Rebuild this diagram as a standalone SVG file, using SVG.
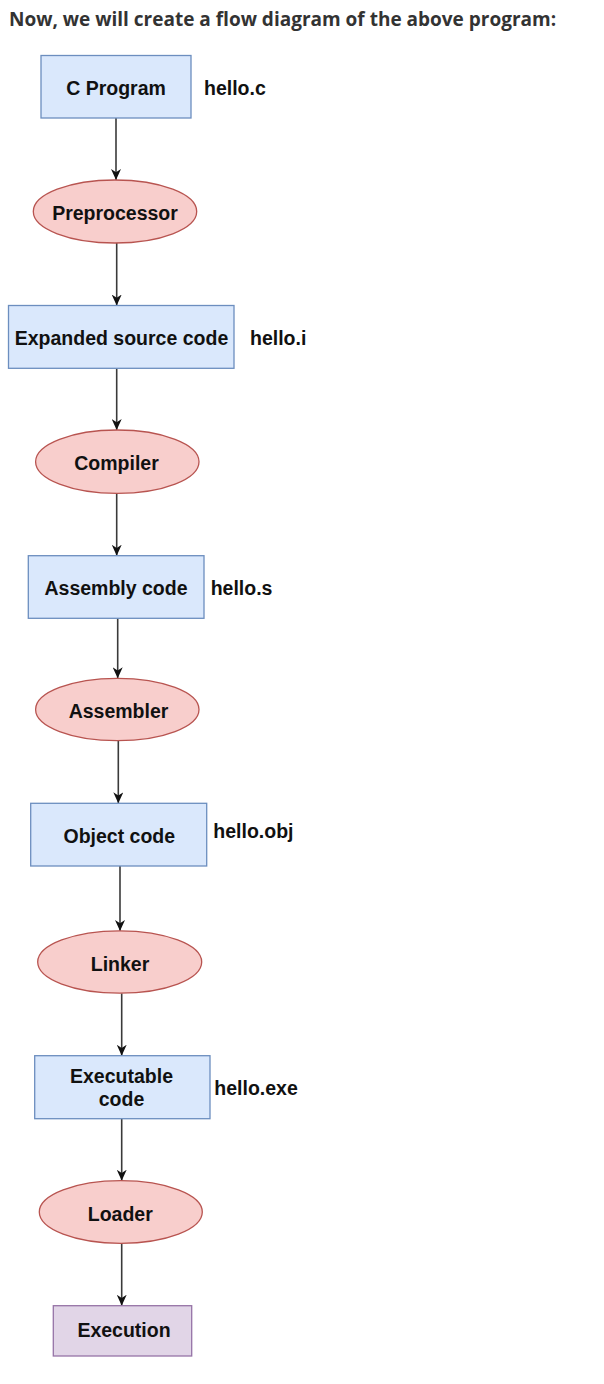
<svg xmlns="http://www.w3.org/2000/svg" width="604" height="1384" viewBox="0 0 604 1384">
<style>
.title{font-family:"Open Sans","Liberation Sans",sans-serif;font-weight:bold;font-size:19px;fill:#333}
.lbl{font-family:"Liberation Sans",Arial,sans-serif;font-weight:bold;font-size:19.5px;fill:#111}
.mid{text-anchor:middle}
.box{fill:#dae8fc;stroke:#6c8ebf;stroke-width:1.3}
.oval{fill:#f8cecc;stroke:#b85450;stroke-width:1.3}
.exec{fill:#e1d5e7;stroke:#9673a6;stroke-width:1.3}
.edge{stroke:#3a3a3a;stroke-width:1.6;fill:none;marker-end:url(#arr)}
</style>
<defs>
<marker id="arr" viewBox="0 0 10 10" refX="10" refY="5" markerWidth="11" markerHeight="10" markerUnits="userSpaceOnUse" orient="auto" preserveAspectRatio="none">
<path d="M0,0 L10,5 L0,10 L3,5 z" fill="#111"/>
</marker>
</defs>
<rect width="604" height="1384" fill="#fff"/>
<text class="title" x="9" y="26">Now, we will create a flow diagram of the above program:</text>

<g id="connectors">
<line class="edge" x1="116" y1="118" x2="116" y2="180"/>
<line class="edge" x1="116.7" y1="243" x2="116.7" y2="305.5"/>
<line class="edge" x1="116.7" y1="368.3" x2="116.7" y2="430"/>
<line class="edge" x1="116.7" y1="493.3" x2="116.7" y2="555.7"/>
<line class="edge" x1="117.7" y1="618.3" x2="117.7" y2="678.3"/>
<line class="edge" x1="118.3" y1="740.7" x2="118.3" y2="803.3"/>
<line class="edge" x1="120" y1="866" x2="120" y2="931"/>
<line class="edge" x1="121.7" y1="993.3" x2="121.7" y2="1055.7"/>
<line class="edge" x1="121.7" y1="1118.7" x2="121.7" y2="1180.7"/>
<line class="edge" x1="121.7" y1="1243.3" x2="121.7" y2="1305.7"/>
</g>

<g id="c-program">
<rect class="box" x="41" y="55.5" width="150" height="62.5"/>
<text class="lbl mid" x="116" y="95">C Program</text>
</g>
<g id="hello-c"><text class="lbl" x="204" y="95">hello.c</text></g>

<g id="preprocessor">
<ellipse class="oval" cx="115" cy="211.5" rx="81.7" ry="31.5"/>
<text class="lbl mid" x="115" y="219.7">Preprocessor</text>
</g>

<g id="expanded-source">
<rect class="box" x="8.5" y="305.5" width="225.5" height="62.8"/>
<text class="lbl mid" x="121.5" y="345">Expanded source code</text>
</g>
<g id="hello-i"><text class="lbl" x="250" y="345">hello.i</text></g>

<g id="compiler">
<ellipse class="oval" cx="117.3" cy="461.7" rx="81.7" ry="31.7"/>
<text class="lbl mid" x="116.5" y="470">Compiler</text>
</g>

<g id="assembly-code">
<rect class="box" x="28.3" y="555.7" width="175.7" height="62.6"/>
<text class="lbl mid" x="116" y="595">Assembly code</text>
</g>
<g id="hello-s"><text class="lbl" x="210.7" y="595">hello.s</text></g>

<g id="assembler">
<ellipse class="oval" cx="117.3" cy="709.5" rx="81.7" ry="31.2"/>
<text class="lbl mid" x="118.5" y="718.3">Assembler</text>
</g>

<g id="object-code">
<rect class="box" x="30.7" y="803.3" width="176" height="62.7"/>
<text class="lbl mid" x="119.3" y="842.7">Object code</text>
</g>
<g id="hello-obj"><text class="lbl" x="213.3" y="838.3">hello.obj</text></g>

<g id="linker">
<ellipse class="oval" cx="119.7" cy="962" rx="82" ry="31.2"/>
<text class="lbl mid" x="120" y="970.7">Linker</text>
</g>

<g id="executable-code">
<rect class="box" x="34.7" y="1055.7" width="175.3" height="63"/>
<text class="lbl mid" x="121.5" y="1083.3">Executable</text>
<text class="lbl mid" x="121.5" y="1106">code</text>
</g>
<g id="hello-exe"><text class="lbl" x="214.3" y="1095">hello.exe</text></g>

<g id="loader">
<ellipse class="oval" cx="120.8" cy="1212" rx="81.5" ry="31.3"/>
<text class="lbl mid" x="120.3" y="1220.7">Loader</text>
</g>

<g id="execution">
<rect class="exec" x="53.3" y="1305.7" width="138.4" height="50.3"/>
<text class="lbl mid" x="124" y="1336.7">Execution</text>
</g>
</svg>
